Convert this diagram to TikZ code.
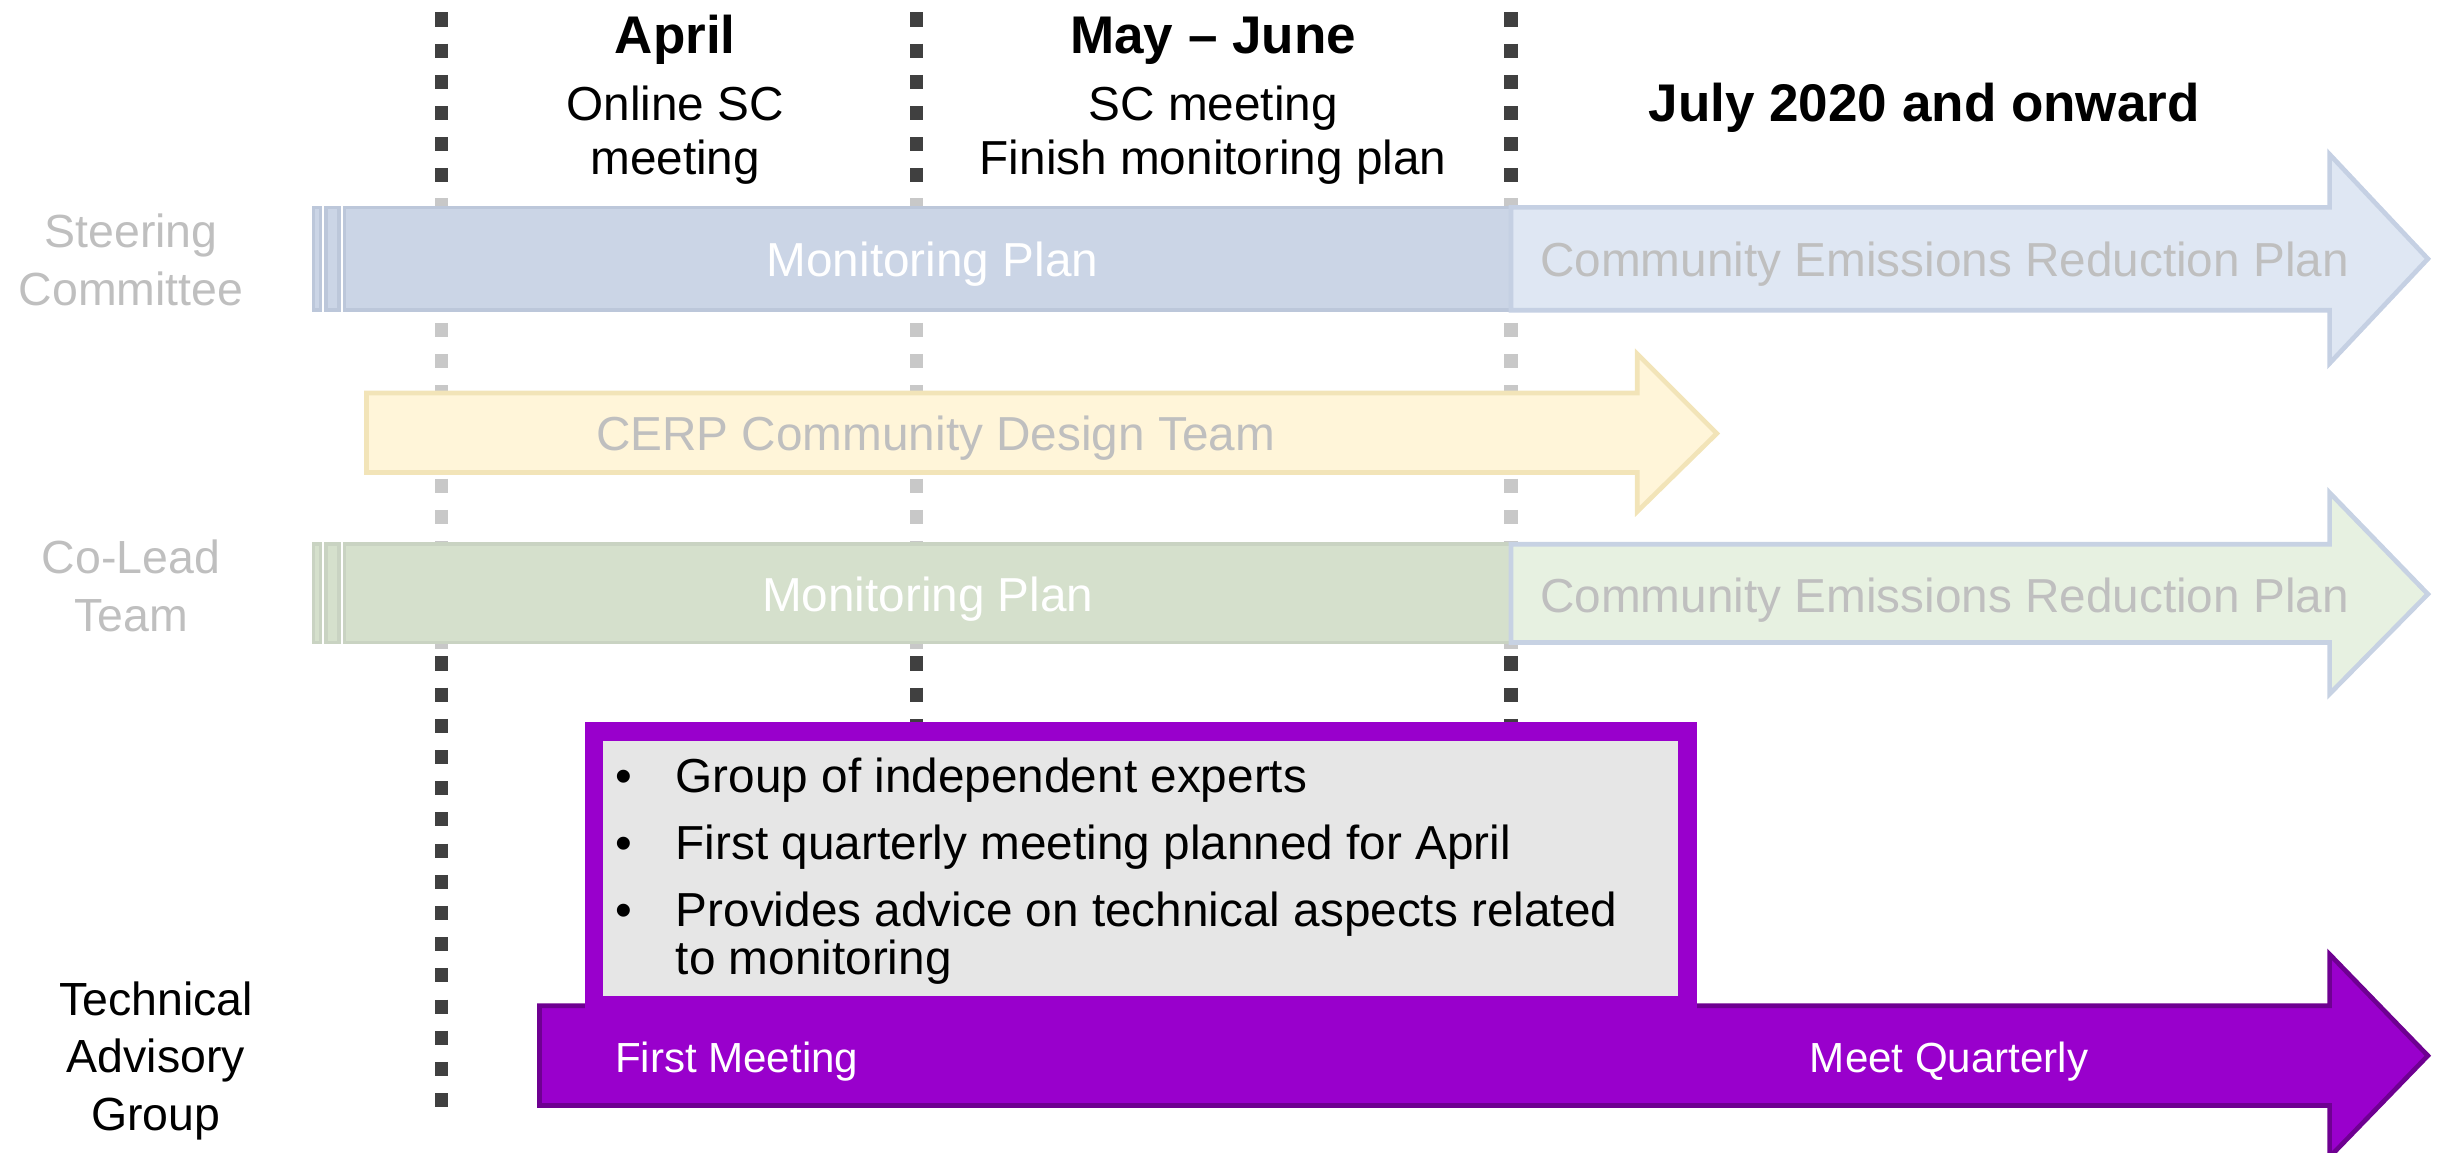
\documentclass[tikz,border=0pt]{standalone}
\usepackage{fontspec}
\setmainfont{Liberation Sans}
\definecolor{dotdark}{HTML}{404040}
\definecolor{dotgrey}{HTML}{C8C8C8}
\definecolor{fadetext}{HTML}{BFBFBF}
\definecolor{scfill}{HTML}{CBD5E6}
\definecolor{scdraw}{HTML}{BCC7DA}
\definecolor{scafill}{HTML}{DFE7F3}
\definecolor{scadraw}{HTML}{C5D0E3}
\definecolor{cdfill}{HTML}{FFF5D9}
\definecolor{cddraw}{HTML}{F2E4B8}
\definecolor{clfill}{HTML}{D5E0CC}
\definecolor{cldraw}{HTML}{C9D3C2}
\definecolor{clafill}{HTML}{E7F1E1}
\definecolor{cladraw}{HTML}{C7D2E3}
\definecolor{tagpurple}{HTML}{9900CC}
\definecolor{tagedge}{HTML}{6E0091}
\definecolor{boxfill}{HTML}{E6E6E6}
\begin{document}
\begin{tikzpicture}[x=0.5pt,y=-0.5pt,
  dotline/.style={line width=4.2, dash pattern=on 4.5 off 5.5},
  txt/.style={inner sep=0pt, anchor=base, font=\fontsize{15.3}{18}\selectfont},
  hdr/.style={inner sep=0pt, anchor=base, font=\bfseries\fontsize{17}{20}\selectfont},
  side/.style={inner sep=0pt, anchor=base, font=\fontsize{14.9}{18}\selectfont},
  small/.style={inner sep=0pt, anchor=base, font=\fontsize{13.5}{16}\selectfont, text=white},
  scbar/.style={fill=scfill, draw=scdraw, line width=1.2},
  scarrow/.style={fill=scafill, draw=scadraw, line width=1.5},
  cdarrow/.style={fill=cdfill, draw=cddraw, line width=1.5},
  clbar/.style={fill=clfill, draw=cldraw, line width=1.2},
  clarrow/.style={fill=clafill, draw=cladraw, line width=1.5}]
\useasboundingbox (0,0) rectangle (1568,739.4);
\clip (0,0) rectangle (1568,739.4);

% vertical dotted lines
\foreach \xx/\nm in {283/a,588/b,969/c}{
  \coordinate (top\nm) at (\xx,8);
  \coordinate (mid\nm) at (\xx,127);
  \coordinate (low\nm) at (\xx,421);
  \coordinate (end\nm) at (\xx,712);
  \draw[dotline, dotdark] (top\nm) -- (mid\nm);
  \draw[dotline, dotgrey] (mid\nm) -- (low\nm);
  \draw[dotline, dotdark] (low\nm) -- (end\nm);
}

% headers
\node[hdr] (april) at (433,34) {April};
\node[txt] (april1) at (433,77) {Online SC};
\node[txt] (april2) at (433,112) {meeting};
\node[hdr] (mayjune) at (778,34) {May \textendash{} June};
\node[txt] (mj1) at (778,77) {SC meeting};
\node[txt] (mj2) at (778,112) {Finish monitoring plan};
\node[hdr] (july) at (1234,78) {July 2020 and onward};

% row labels
\node[side, text=fadetext] (sc1) at (84,159) {Steering};
\node[side, text=fadetext] (sc2) at (84,196) {Committee};
\node[side, text=fadetext] (cl1) at (84,368) {Co-Lead};
\node[side, text=fadetext] (cl2) at (84,405) {Team};
\node[side] (tag1) at (100,651) {Technical};
\node[side] (tag2) at (100,688) {Advisory};
\node[side] (tag3) at (100,725) {Group};

% row 1: Steering Committee
\draw[scbar] (201,133) rectangle (205.5,199);
\draw[scbar] (209,133) rectangle (217.5,199);
\draw[scbar] (221,133) rectangle (969,199);
\draw[scarrow] (969,133) -- (1494,133) -- (1494,99) -- (1557,166) -- (1494,233) -- (1494,199) -- (969,199) -- cycle;
\node[txt, text=white] (scmp) at (598,177) {Monitoring Plan};
\node[txt, text=fadetext] (sccerp) at (1247,177) {Community Emissions Reduction Plan};

% row 2: CERP Community Design Team
\draw[cdarrow] (235,252) -- (1050,252) -- (1050,227) -- (1101,278) -- (1050,328) -- (1050,303) -- (235,303) -- cycle;
\node[txt, text=fadetext] (cdt) at (600,289) {CERP Community Design Team};

% row 3: Co-Lead Team
\draw[clbar] (201,349) rectangle (205.5,412);
\draw[clbar] (209,349) rectangle (217.5,412);
\draw[clbar] (221,349) rectangle (969,412);
\draw[clarrow] (969,349) -- (1494,349) -- (1494,316) -- (1557,381) -- (1494,445) -- (1494,412) -- (969,412) -- cycle;
\node[txt, text=white] (clmp) at (595,392) {Monitoring Plan};
\node[txt, text=fadetext] (clcerp) at (1247,393) {Community Emissions Reduction Plan};

% TAG arrow and box
\draw[fill=tagpurple, draw=tagedge, line width=1.5] (346,645) -- (1494,645) -- (1494,612) -- (1557,677) -- (1494,742) -- (1494,709) -- (346,709) -- cycle;
\draw[fill=boxfill, draw=tagpurple, line width=6] (381,469) -- (381,645) -- (1082,645) -- (1082,469) -- cycle;
\fill[tagpurple] (378,642) rectangle (1085,648);

\foreach \yy in {508,551,594}{\node[txt] at (400,\yy) {\textbullet};}
\node[txt, anchor=base west] (b1) at (433,508) {Group of independent experts};
\node[txt, anchor=base west] (b2) at (433,551) {First quarterly meeting planned for April};
\node[txt, anchor=base west] (b3) at (433,594) {Provides advice on technical aspects related};
\node[txt, anchor=base west] (b4) at (433,625) {to monitoring};

\node[small, anchor=base west] (first) at (394,688) {First Meeting};
\node[small] (quarter) at (1250,688) {Meet Quarterly};
\end{tikzpicture}
\end{document}
